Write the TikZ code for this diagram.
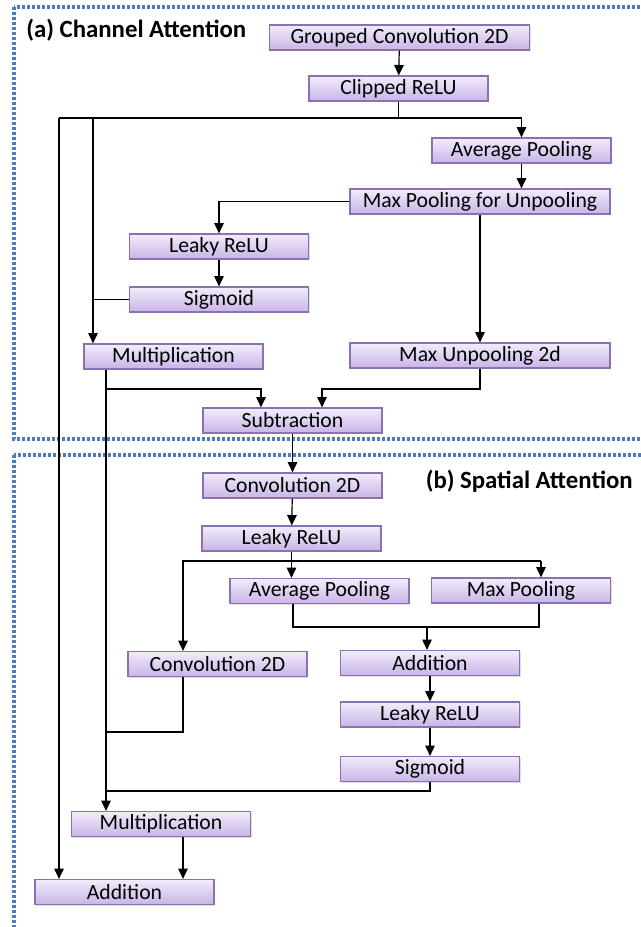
\documentclass[tikz,border=0pt]{standalone}
\usepackage{fontspec}
\setmainfont{Carlito}
\usetikzlibrary{arrows.meta,shadows}
\definecolor{boxtop}{RGB}{242,237,251}
\definecolor{boxbot}{RGB}{200,180,230}
\definecolor{boxline}{RGB}{139,112,178}
\definecolor{panel}{RGB}{74,126,193}

\begin{document}
\begin{tikzpicture}[x=0.5pt, y=-0.5pt,
  blk/.style={draw=boxline, line width=0.6pt, top color=boxtop, bottom color=boxbot,
    minimum width=89.5pt, minimum height=12.5pt, inner sep=0pt,
    font=\fontsize{10.85}{12}\selectfont,
    drop shadow={shadow xshift=0.5pt, shadow yshift=-0.7pt, opacity=0.25}},
  wide/.style={blk, minimum width=130pt},
  link/.style={line width=0.6pt},
  flow/.style={link, -{Triangle[width=4.8pt,length=5.2pt]}},
  panelbox/.style={draw=panel, line width=1.7pt, dash pattern=on 1.3pt off 1.2pt},
  title/.style={inner sep=0pt, font=\fontsize{12.4}{14}\selectfont\bfseries}]
  \useasboundingbox (0,0) rectangle (641,927);
  \begin{scope}
    \clip (0,0) rectangle (641,927);
    \draw[panelbox] (14,7) rectangle (720,439);
    \draw[panelbox] (14,455) rectangle (720,1000);
  \end{scope}

  \begin{scope}
    \node[title, anchor=west] (tca) at (26,30) {(a) Channel Attention};
    \node[wide] (gconv) at (399.5,37.5) {Grouped Convolution 2D};
    \node[blk] (crelu) at (398.5,88.5) {Clipped ReLU};
    \node[blk] (apool) at (521.5,150.5) {Average Pooling};
    \node[wide] (mpool) at (480,201.5) {Max Pooling for Unpooling};
    \node[blk] (lrelua) at (219,246.5) {Leaky ReLU};
    \node[blk] (siga) at (219,299.5) {Sigmoid};
    \node[blk] (mula) at (173.5,356.5) {Multiplication};
    \node[wide] (unpool) at (480,355.5) {Max Unpooling 2d};
    \node[blk] (sub) at (292.5,420.5) {Subtraction};
    \coordinate (skip) at (59,118);
    \coordinate (gate) at (93,118);
    \coordinate (res) at (106,389);
    \coordinate (dil) at (261,389);
    \coordinate (dif) at (322,389);
    \draw[flow] (gconv) -- (crelu);
    \draw[link] (crelu.south) -- (crelu.south |- skip);
    \draw[flow] (skip) -| (apool.north);
    \draw[flow] (gate) -- (gate |- mula.north);
    \draw[link] (siga.west) -- (siga.west -| gate);
    \draw[flow] (apool) -- (apool |- mpool.north);
    \draw[flow] (mpool.west) -| (lrelua.north);
    \draw[flow] (lrelua) -- (siga);
    \draw[flow] (mpool) -- (unpool);
    \draw[flow] (res) -- (dil) -- (dil |- sub.north);
    \draw[flow] (unpool.south) |- (dif) -- (dif |- sub.north);
  \end{scope}

  \begin{scope}
    \node[title, anchor=east] (tsa) at (633,481) {(b) Spatial Attention};
    \node[blk] (conv) at (292.5,485.5) {Convolution 2D};
    \node[blk] (lrelub) at (291.5,538.5) {Leaky ReLU};
    \node[blk] (apoolb) at (319.5,591) {Average Pooling};
    \node[blk] (mpoolb) at (521,590.5) {Max Pooling};
    \node[blk] (convb) at (217.5,664) {Convolution 2D};
    \node[blk] (add) at (430,663) {Addition};
    \node[blk] (lreluc) at (430,714.5) {Leaky ReLU};
    \node[blk] (sigb) at (430,769) {Sigmoid};
    \node[blk] (mulb) at (161,824) {Multiplication};
    \node[blk] (addf) at (124.5,892) {Addition};
    \coordinate (spl) at (183,561);
    \coordinate (spr) at (541,561);
    \coordinate (pl) at (293,627);
    \coordinate (pr) at (539,627);
    \coordinate (pm) at (427,627);
    \coordinate (cj) at (106,732);
    \coordinate (sj) at (106,791);
    \draw[flow] (sub) -- (conv);
    \draw[flow] (conv) -- (lrelub);
    \draw[flow] (lrelub.south) -- (lrelub.south |- apoolb.north);
    \draw[flow] (spr) -- (spr |- mpoolb.north);
    \draw[flow] (spr) -- (spl) -- (spl |- convb.north);
    \draw[link] (apoolb.south -| pl) -- (pl) -- (pr) -- (mpoolb.south -| pr);
    \draw[flow] (pm) -- (pm |- add.north);
    \draw[flow] (add) -- (lreluc);
    \draw[flow] (lreluc) -- (sigb);
    \draw[link, line width=1.2pt] (convb.south -| spl) |- (cj);
    \draw[link] (sigb.south) |- (sj);
    \draw[flow] (skip) -- (skip |- addf.north);
    \draw[flow] (mula.south -| res) -- (res |- mulb.north);
    \draw[flow] (mulb.south -| spl) -- (spl |- addf.north);
  \end{scope}
\end{tikzpicture}
\end{document}
